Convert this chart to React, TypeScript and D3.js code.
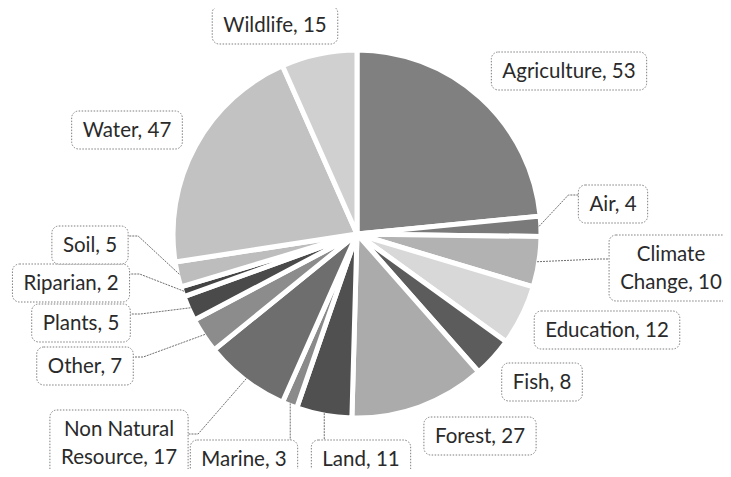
import React, { useEffect, useRef } from 'react';
import * as d3 from 'd3';

// topic counts, clockwise from 12 o'clock
const categories = [
  'Agriculture', 'Air', 'Climate Change', 'Education', 'Fish', 'Forest', 'Land',
  'Marine', 'Non Natural Resource', 'Other', 'Plants', 'Riparian', 'Soil', 'Water', 'Wildlife'
];
const values = [53, 4, 10, 12, 8, 27, 11, 3, 17, 7, 5, 2, 5, 47, 15];

// grey shades, one per slice
const shades = [
  '#808080', '#7a7a7a', '#b2b2b2', '#d8d8d8', '#5c5c5c', '#ababab', '#505050',
  '#8a8a8a', '#6e6e6e', '#8c8c8c', '#4a4a4a', '#444444', '#bdbdbd', '#c2c2c2', '#d0d0d0'
];

// label box centres, relative to the pie centre; wrap = two lines; leader = draw a leader line
const labelLayout = [
  { dx: 212, dy: -163, wrap: false, leader: false },
  { dx: 256, dy: -30, wrap: false, leader: true },
  { dx: 314, dy: 34, wrap: true, leader: true },
  { dx: 250, dy: 96, wrap: false, leader: false },
  { dx: 185, dy: 148, wrap: false, leader: false },
  { dx: 123, dy: 202, wrap: false, leader: false },
  { dx: 4, dy: 225, wrap: false, leader: true },
  { dx: -113, dy: 225, wrap: false, leader: true },
  { dx: -238, dy: 209, wrap: true, leader: true },
  { dx: -272, dy: 132, wrap: false, leader: true },
  { dx: -276, dy: 89, wrap: false, leader: true },
  { dx: -286, dy: 49, wrap: false, leader: true },
  { dx: -267, dy: 11, wrap: false, leader: true },
  { dx: -230, dy: -104, wrap: false, leader: false },
  { dx: -82, dy: -209, wrap: false, leader: false }
];

const width = 731;
const height = 477;
const cx = 357;
const cy = 234;
const radius = 184;

export default function App() {
  const ref = useRef<SVGSVGElement>(null);

  useEffect(() => {
    const svg = d3.select(ref.current);
    svg.selectAll('*').remove();

    const data = categories.map((c, i) => ({ name: c, value: values[i], i }));

    const pie = d3.pie<any>().sort(null).value((d) => d.value);
    const arcs = pie(data);

    const arcGen = d3.arc<any>().innerRadius(0).outerRadius(radius);
    const edgeArc = d3.arc<any>().innerRadius(radius * 0.99).outerRadius(radius * 0.99);

    const g = svg.append('g').attr('transform', `translate(${cx},${cy})`);

    g.selectAll('path.slice')
      .data(arcs)
      .enter()
      .append('path')
      .attr('class', 'slice')
      .attr('d', arcGen)
      .attr('fill', (d) => shades[d.data.i])
      .attr('stroke', '#ffffff')
      .attr('stroke-width', 5)
      .attr('stroke-linejoin', 'round');

    const labels = g.append('g');

    arcs.forEach((d) => {
      const lay = labelLayout[d.data.i];
      const words = d.data.name.split(' ');
      const lines = lay.wrap
        ? [words.slice(0, -1).join(' '), `${words[words.length - 1]}, ${d.data.value}`]
        : [`${d.data.name}, ${d.data.value}`];

      const lg = labels.append('g').attr('transform', `translate(${lay.dx},${lay.dy})`);
      const rect = lg.append('rect');
      const lineH = 28;
      const text = lg
        .append('text')
        .attr('text-anchor', 'middle')
        .attr('font-family', 'Lato, "Open Sans", sans-serif')
        .attr('font-size', 20.5)
        .attr('fill', '#2a2a2a');
      lines.forEach((l, k) => {
        text
          .append('tspan')
          .attr('x', 0)
          .attr('y', (k - (lines.length - 1) / 2) * lineH)
          .attr('dy', '0.35em')
          .text(l);
      });

      const bb = (text.node() as SVGTextElement).getBBox();
      const bw = bb.width + 22;
      const bh = lines.length === 1 ? 38 : 66;
      rect
        .attr('x', -bw / 2)
        .attr('y', -bh / 2)
        .attr('width', bw)
        .attr('height', bh)
        .attr('rx', 7)
        .attr('fill', '#ffffff')
        .attr('stroke', '#7f7f7f')
        .attr('stroke-width', 1)
        .attr('stroke-dasharray', '1.5,1.5');

      if (lay.leader) {
        const [sx, sy] = edgeArc.centroid(d);
        const left = lay.dx - bw / 2;
        const right = lay.dx + bw / 2;
        const top = lay.dy - bh / 2;
        let pts: [number, number][];
        if (sx > left && sx < right && top > sy) {
          pts = [[sx, sy], [sx, top]];
        } else {
          const ex = lay.dx > sx ? left : right;
          const ey = lay.dy - 9;
          const elbow = lay.dx > sx ? ex - 10 : ex + 10;
          pts = [[sx, sy], [elbow, ey], [ex, ey]];
        }
        labels
          .insert('path', ':first-child')
          .attr('d', d3.line()(pts))
          .attr('fill', 'none')
          .attr('stroke', '#6f6f6f')
          .attr('stroke-width', 1)
          .attr('stroke-dasharray', '2,1');
      }
    });
  }, []);

  return (
    <svg ref={ref} width={width} height={height} style={{ display: 'block', margin: -8 }} />
  );
}
